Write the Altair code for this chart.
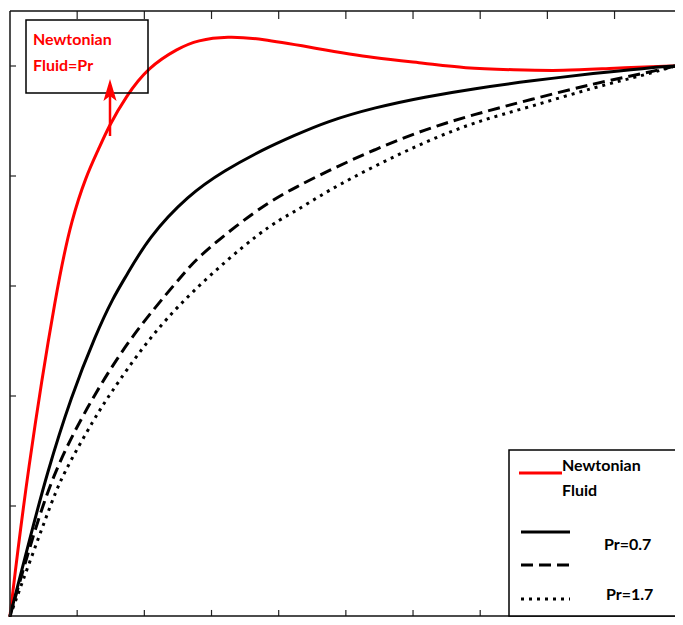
import altair as alt
import pandas as pd

# ---- data ----
red_x = [0, 0.25, 0.706, 0.926, 1.13, 1.32, 1.47, 1.72, 2.06, 2.50, 2.79, 3.24, 3.72, 4.56, 5.44, 6.18, 6.76, 7.5, 8.24, 8.97, 9.9]
red_y = [0, 0.257, 0.607, 0.724, 0.799, 0.849, 0.890, 0.944, 0.998, 1.032, 1.047, 1.054, 1.050, 1.032, 1.014, 1.005, 0.996, 0.993, 0.991, 0.996, 1.0]

solid_x = [0, 0.294, 0.544, 0.912, 1.28, 1.54, 1.72, 2.06, 2.65, 3.19, 3.78, 4.22, 4.71, 5.44, 6.18, 6.91, 7.75, 8.72, 9.46, 9.9]
solid_y = [0, 0.140, 0.257, 0.400, 0.513, 0.580, 0.616, 0.688, 0.765, 0.810, 0.849, 0.873, 0.899, 0.925, 0.944, 0.959, 0.973, 0.987, 0.996, 1.0]

dash_x = [0, 0.294, 0.632, 1.13, 1.76, 2.54, 2.79, 3.38, 3.87, 4.26, 4.71, 5.44, 6.18, 6.91, 7.75, 8.72, 9.46, 9.9]
dash_y = [0, 0.126, 0.257, 0.377, 0.503, 0.616, 0.652, 0.711, 0.754, 0.780, 0.808, 0.849, 0.885, 0.912, 0.939, 0.969, 0.987, 1.0]

dot_x = [0, 0.588, 0.78, 1.28, 1.47, 2.01, 2.65, 3.78, 4.26, 4.71, 5.44, 6.18, 6.91, 7.75, 8.72, 9.46, 9.9]
dot_y = [0, 0.197, 0.257, 0.364, 0.400, 0.496, 0.585, 0.706, 0.736, 0.772, 0.819, 0.862, 0.898, 0.926, 0.962, 0.984, 1.0]

x_ticks = [1, 2, 3, 4, 5, 6, 7, 8, 9]
y_ticks = [0.2, 0.4, 0.6, 0.8, 1.0]

annot_lines = ["Newtonian", "Fluid=Pr"]
legend_labels = ["Newtonian", "Fluid", "Pr=0.7", "Pr=1.7"]

XDOM = [0, 9.9]
YDOM = [0, 1.1]
W, H = 665, 605
xs = alt.Scale(domain=XDOM, nice=False, zero=False)
ys = alt.Scale(domain=YDOM, nice=False, zero=False)
FONT = "Lato"
FS = 16

one = pd.DataFrame({"k": [0]})


def curve(xv, yv, color, dash=None, cap="butt"):
    df = pd.DataFrame({"x": xv, "y": yv})
    kw = dict(color=color, strokeWidth=3, strokeCap=cap, interpolate="basis")
    if dash:
        kw["strokeDash"] = dash
    return alt.Chart(df).mark_line(**kw).encode(
        x=alt.X("x:Q", scale=xs, axis=None),
        y=alt.Y("y:Q", scale=ys, axis=None),
    )


red = curve(red_x, red_y, "#ff0000", cap="round")
solid = curve(solid_x, solid_y, "#000000", cap="round")
dashed = curve(dash_x, dash_y, "#000000", dash=[12, 6])
dotted = curve(dot_x, dot_y, "#000000", dash=[3, 5])

# inward ticks (tick lengths expressed in data units)
top_df = pd.DataFrame({"t": x_ticks, "a": [YDOM[1]] * len(x_ticks), "b": [YDOM[1] - 0.0145] * len(x_ticks)})
bot_df = pd.DataFrame({"t": x_ticks, "a": [0.0] * len(x_ticks), "b": [0.011] * len(x_ticks)})
left_df = pd.DataFrame({"t": y_ticks, "a": [0.0] * len(y_ticks), "b": [0.09] * len(y_ticks)})

top_ticks = alt.Chart(top_df).mark_rule(color="#222", strokeWidth=1.2).encode(
    x=alt.X("t:Q", scale=xs, axis=None),
    y=alt.Y("a:Q", scale=ys, axis=None), y2="b:Q")
bot_ticks = alt.Chart(bot_df).mark_rule(color="#222", strokeWidth=1.2).encode(
    x=alt.X("t:Q", scale=xs, axis=None),
    y=alt.Y("a:Q", scale=ys, axis=None), y2="b:Q")
left_ticks = alt.Chart(left_df).mark_rule(color="#222", strokeWidth=1.2).encode(
    y=alt.Y("t:Q", scale=ys, axis=None),
    x=alt.X("a:Q", scale=xs, axis=None), x2="b:Q")

# frame: left, top, bottom (right side is cropped in the reference)
f_left = alt.Chart(one).mark_rule(color="#222", strokeWidth=1.6).encode(
    x=alt.value(0), y=alt.value(0), y2=alt.value(H))
f_top = alt.Chart(one).mark_rule(color="#111", strokeWidth=1.4).encode(
    x=alt.value(0), x2=alt.value(W + 20), y=alt.value(0))
f_bot = alt.Chart(one).mark_rule(color="#111", strokeWidth=1.4).encode(
    x=alt.value(0), x2=alt.value(W + 20), y=alt.value(H))

# annotation box top-left
abox = alt.Chart(one).mark_rect(fill="transparent", stroke="#000", strokeWidth=1.5).encode(
    x=alt.value(16), x2=alt.value(138), y=alt.value(9), y2=alt.value(82))


def txt(label, x, y, color):
    return alt.Chart(one).mark_text(align="left", baseline="middle", font=FONT, fontWeight="bold",
                                    fontSize=FS, color=color).encode(
        x=alt.value(x), y=alt.value(y), text=alt.value(label))


atext1 = txt(annot_lines[0], 23, 29, "#ff0000")
atext2 = txt(annot_lines[1], 23, 55, "#ff0000")
arrow_line = alt.Chart(one).mark_rule(color="#ff0000", strokeWidth=2.5).encode(
    x=alt.value(100), y=alt.value(125), y2=alt.value(76))
arrow_head = alt.Chart(one).mark_point(
    shape="M0,-1L0.6,1L0,0.55L-0.6,1Z", filled=True, color="#ff0000", opacity=1, size=480).encode(
    x=alt.value(100), y=alt.value(79))

# legend box bottom-right
lbox = alt.Chart(one).mark_rect(fill="white", stroke="#000", strokeWidth=1.5).encode(
    x=alt.value(499), x2=alt.value(W + 20), y=alt.value(439), y2=alt.value(H))
l_red = alt.Chart(one).mark_rule(color="#ff0000", strokeWidth=3).encode(
    x=alt.value(509), x2=alt.value(552), y=alt.value(462))
l_solid = alt.Chart(one).mark_rule(color="#000", strokeWidth=3).encode(
    x=alt.value(511), x2=alt.value(560), y=alt.value(521))
l_dash = alt.Chart(one).mark_rule(color="#000", strokeWidth=3, strokeDash=[12, 6]).encode(
    x=alt.value(511), x2=alt.value(560), y=alt.value(554))
l_dot = alt.Chart(one).mark_rule(color="#000", strokeWidth=3, strokeDash=[3, 5]).encode(
    x=alt.value(511), x2=alt.value(560), y=alt.value(588))

lt1 = txt(legend_labels[0], 552, 455, "#000")
lt2 = txt(legend_labels[1], 552, 480, "#000")
lt3 = txt(legend_labels[2], 594, 534, "#000")
lt4 = txt(legend_labels[3], 596, 584, "#000")

chart = alt.layer(
    red, solid, dashed, dotted,
    top_ticks, bot_ticks, left_ticks, f_left, f_top, f_bot,
    abox, atext1, atext2, arrow_line, arrow_head,
    lbox, l_red, l_solid, l_dash, l_dot, lt1, lt2, lt3, lt4,
).properties(
    width=W, height=H,
    autosize=alt.AutoSizeParams(type="none"),
    padding={"left": 2, "top": 3, "right": 0, "bottom": 1},
    background="white",
).configure_view(strokeWidth=0)

chart.save("out.html", embed_options={"renderer": "svg", "actions": False})
